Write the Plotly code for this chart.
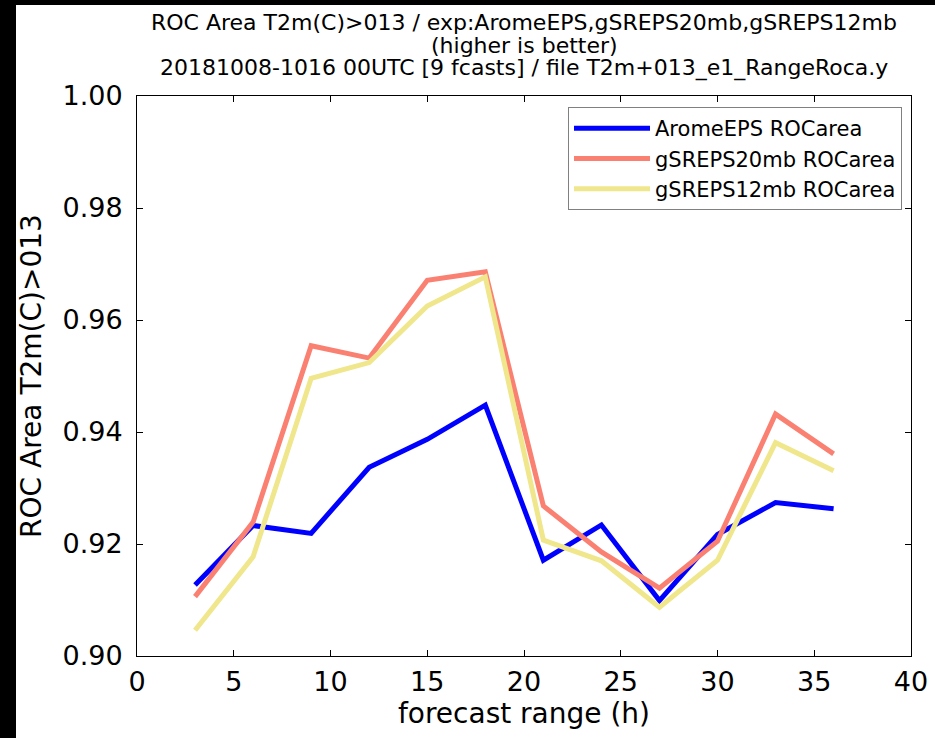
import plotly.graph_objects as go

hours = [3, 6, 9, 12, 15, 18, 21, 24, 27, 30, 33, 36]
arome = [0.9127, 0.9233, 0.9219, 0.9337, 0.9387, 0.9448, 0.9171, 0.9234, 0.9099, 0.9217, 0.9274, 0.9263]
sreps20 = [0.9106, 0.9239, 0.9554, 0.9532, 0.9671, 0.9686, 0.9268, 0.9186, 0.9121, 0.9205, 0.9432, 0.9361]
sreps12 = [0.9046, 0.9177, 0.9496, 0.9524, 0.9625, 0.9677, 0.9207, 0.9170, 0.9087, 0.9171, 0.9381, 0.9331]
names = ["AromeEPS ROCarea", "gSREPS20mb ROCarea", "gSREPS12mb ROCarea"]
colors = ["#0000ff", "#fa8072", "#f0e68c"]
title_lines = ["ROC Area T2m(C)>013 / exp:AromeEPS,gSREPS20mb,gSREPS12mb",
               "(higher is better)",
               "20181008-1016 00UTC [9 fcasts] / file T2m+013_e1_RangeRoca.y"]

W, H = 935, 738
L, R, T, B = 137, 24, 96, 82
pw, ph = W - L - R, H - T - B

fig = go.Figure()
for ys, n, c in zip([arome, sreps20, sreps12], names, colors):
    fig.add_trace(go.Scatter(x=hours, y=ys, mode="lines", name=n,
                             line=dict(color=c, width=5)))

font = "DejaVu Sans, sans-serif"
axis_common = dict(showgrid=False, zeroline=False, showline=True, linecolor="black",
                   linewidth=1, mirror="ticks", ticks="inside", ticklen=6,
                   tickcolor="black", tickfont=dict(size=27, color="black", family=font))

annotations = []
for i, line in enumerate(title_lines):
    yc = 22 + 23 * i
    annotations.append(dict(text=line, xref="paper", yref="paper",
                            x=0.5, y=1 + (T - yc) / ph,
                            xanchor="center", yanchor="middle", showarrow=False,
                            font=dict(size=22, family=font, color="black")))

fig.update_layout(
    width=W, height=H,
    margin=dict(l=L, r=R, t=T, b=B, autoexpand=False),
    paper_bgcolor="white", plot_bgcolor="white",
    font=dict(family=font, color="black"),
    annotations=annotations,
    xaxis=dict(range=[0, 40], tickvals=[0, 5, 10, 15, 20, 25, 30, 35, 40],
               ticklabelstandoff=2,
               title=dict(text="forecast range (h)", font=dict(size=28, family=font), standoff=4),
               **axis_common),
    yaxis=dict(range=[0.90, 1.00], tickvals=[0.90, 0.92, 0.94, 0.96, 0.98, 1.00],
               tickformat=".2f", ticklabelstandoff=8,
               title=dict(text="ROC Area T2m(C)>013", font=dict(size=28, family=font), standoff=12),
               **axis_common),
    legend=dict(x=(902 - L) / pw, xanchor="right", y=1 - (107 - T) / ph, yanchor="top",
                bordercolor="#808080", borderwidth=1, bgcolor="white",
                font=dict(size=21, family=font, color="black"), tracegroupgap=0,
                itemwidth=76),
    shapes=[
        dict(type="rect", xref="paper", yref="paper", layer="above", line=dict(width=0),
             fillcolor="black", x0=-L / pw, x1=(16 - L) / pw, y0=-B / ph, y1=1 + T / ph),
        dict(type="rect", xref="paper", yref="paper", layer="above", line=dict(width=0),
             fillcolor="black", x0=-L / pw, x1=1 + R / pw, y0=1 + (T - 5) / ph, y1=1 + T / ph),
    ],
)

fig.write_html("out.html", config={"displayModeBar": False},
               post_script="document.body.style.margin='0';document.body.style.overflow='hidden';")
